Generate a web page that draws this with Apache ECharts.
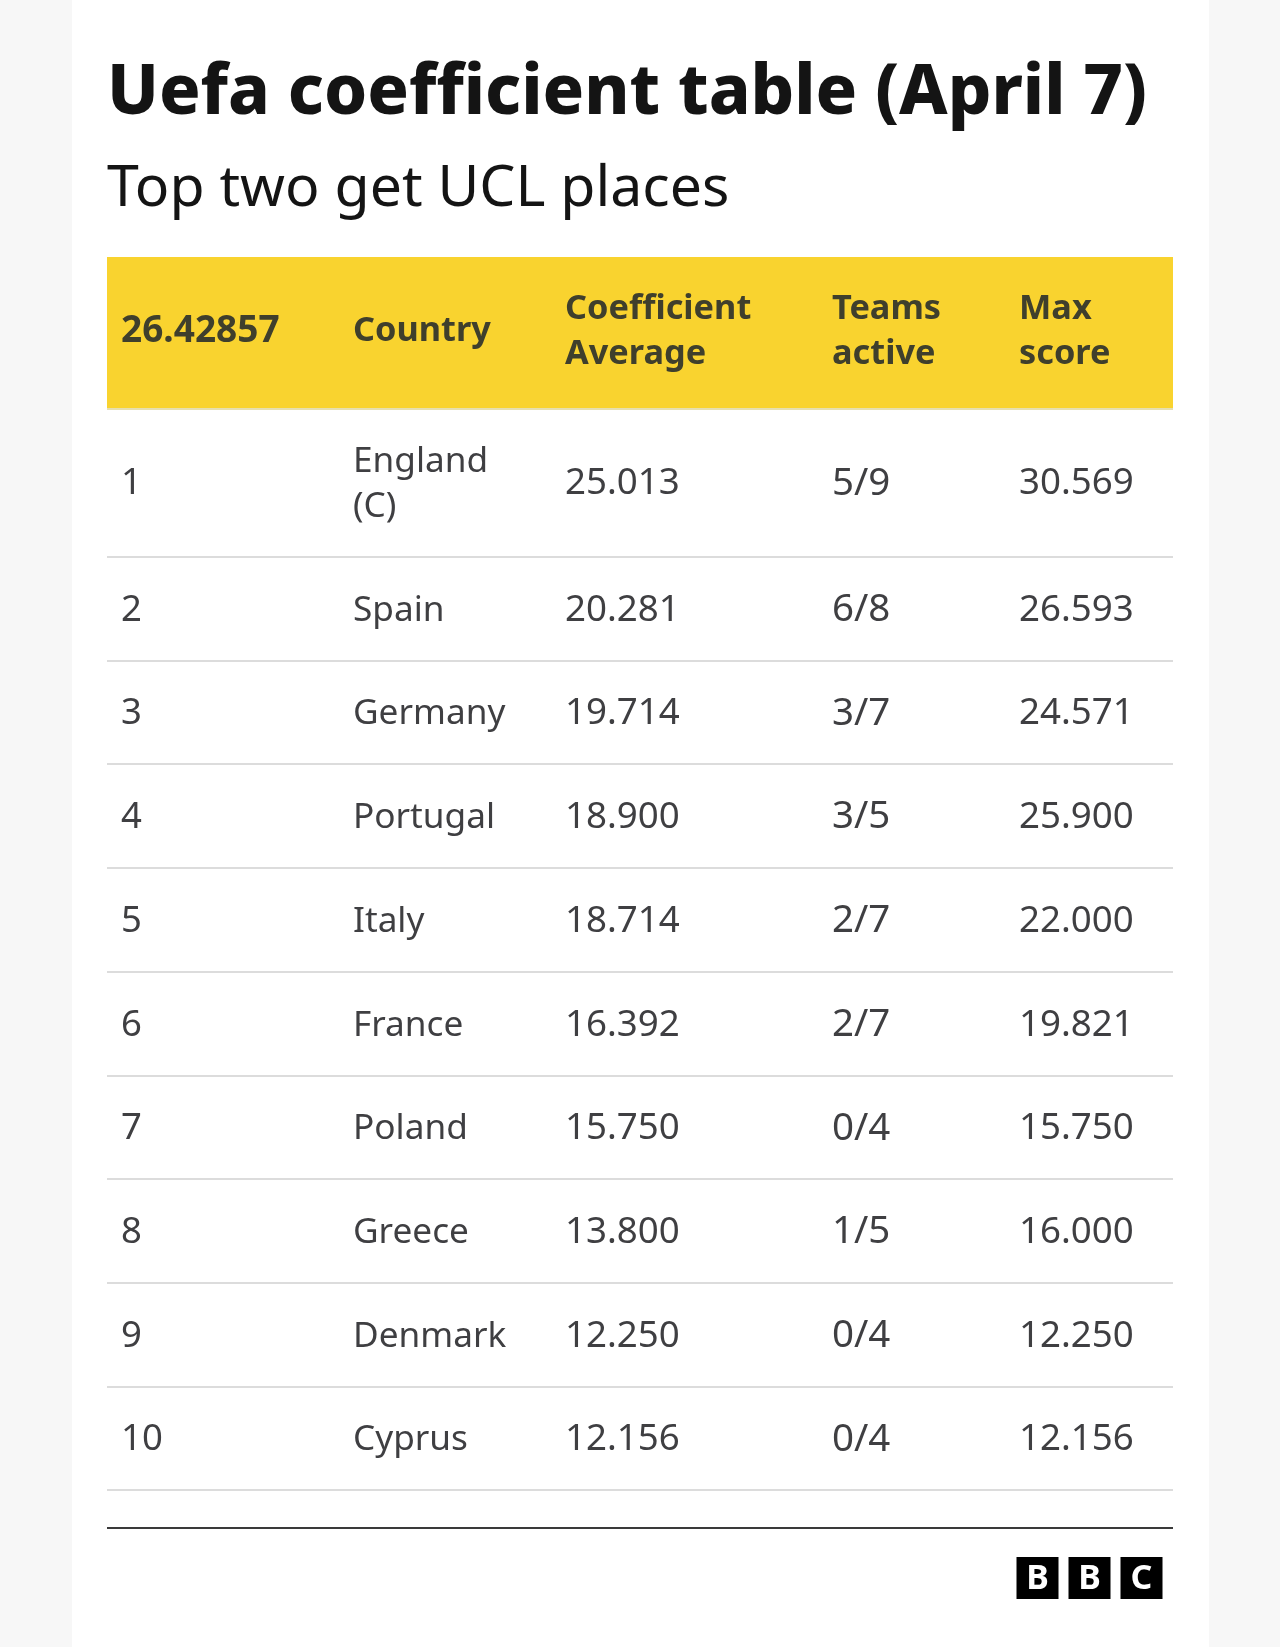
<!DOCTYPE html>
<html>
<head>
<meta charset="utf-8">
<title>Uefa coefficient table</title>
<style>
  html, body { margin: 0; padding: 0; background: #f7f7f7; }
  #chart { width: 1280px; height: 1647px; }
</style>
<script src="https://cdn.jsdelivr.net/npm/echarts@6/dist/echarts.min.js"></script>
</head>
<body>
<div id="chart"></div>
<script>
const titleText = "Uefa coefficient table (April 7)";
const subtitleText = "Top two get UCL places";
const headers = ["26.42857", "Country", "Coefficient\nAverage", "Teams\nactive", "Max\nscore"];
const ranks = ["1", "2", "3", "4", "5", "6", "7", "8", "9", "10"];
const countries = ["England\n(C)", "Spain", "Germany", "Portugal", "Italy", "France", "Poland", "Greece", "Denmark", "Cyprus"];
const averages = ["25.013", "20.281", "19.714", "18.900", "18.714", "16.392", "15.750", "13.800", "12.250", "12.156"];
const active = ["5/9", "6/8", "3/7", "3/5", "2/7", "2/7", "0/4", "1/5", "0/4", "0/4"];
const maxScores = ["30.569", "26.593", "24.571", "25.900", "22.000", "19.821", "15.750", "16.000", "12.250", "12.156"];
const logoLetters = ["B", "B", "C"];

// layout, in page pixels
const font = '"Noto Sans"';
const left = 107, right = 1173;
const colX = [121, 353, 565, 832, 1019];
const rowBottoms = [408, 557, 661, 764, 868, 972, 1076, 1179, 1283, 1387, 1490];
const headerTop = 257;
const headerDrop = -1;
const bodyDrop = 1.5;
const lineGap = 45;
const headerSizes = [37, 34.3, 34.3, 34.3, 34.3];
const bodySizes = [36.5, 35.2, 36.7, 38.5, 36.7];

const columns = [ranks, countries, averages, active, maxScores];
const cells = [];
headers.forEach((h, c) => cells.push([0, c, h]));
columns.forEach((col, c) => col.forEach((v, r) => cells.push([r + 1, c, v])));

function renderCell(params, api) {
  const row = api.value(0), col = api.value(1);
  const text = cells[params.dataIndex][2];
  const top = row === 0 ? headerTop : rowBottoms[row - 1];
  const bottom = rowBottoms[row];
  const children = [];
  if (col === 0) {
    if (row === 0) {
      children.push({ type: "rect", shape: { x: left, y: top, width: right - left, height: bottom - top }, style: { fill: "#f9d32f" } });
      children.push({ type: "rect", shape: { x: left, y: bottom, width: right - left, height: 2 }, style: { fill: "#e6dfb0" } });
    } else {
      children.push({ type: "rect", shape: { x: left, y: bottom - 1, width: right - left, height: 2 }, style: { fill: "#dcdcdc" } });
    }
  }
  const lines = text.split("\n");
  const mid = (top + bottom) / 2 + (row === 0 ? headerDrop : bodyDrop);
  lines.forEach((line, i) => {
    children.push({
      type: "text",
      x: colX[col],
      y: mid + (i - (lines.length - 1) / 2) * lineGap,
      style: {
        text: line,
        fontFamily: font,
        fontSize: row === 0 ? headerSizes[col] : bodySizes[col],
        fontWeight: row === 0 ? 700 : 400,
        fill: row === 0 ? "#3f3f2c" : "#3f3f42",
        verticalAlign: "middle",
        align: "left"
      }
    });
  });
  return { type: "group", children };
}

const chart = echarts.init(document.getElementById("chart"));
chart.setOption({
  animation: false,
  backgroundColor: "#f7f7f7",
  title: [
    { text: titleText, left: 102, top: 55, textStyle: { fontFamily: font, fontSize: 68.7, fontWeight: 800, color: "#141414" } },
    { text: subtitleText, left: 102, top: 156, textStyle: { fontFamily: font, fontSize: 57.2, fontWeight: 400, color: "#141414" } }
  ],
  graphic: [
    { type: "rect", z: -1, shape: { x: 72, y: 0, width: 1137, height: 1647 }, style: { fill: "#ffffff" } },
    { type: "rect", shape: { x: left, y: 1527, width: right - left, height: 2 }, style: { fill: "#3a3a3a" } }
  ].concat(logoLetters.flatMap((l, i) => [
    { type: "rect", shape: { x: 1016.5 + i * 52, y: 1557, width: 42, height: 42 }, style: { fill: "#000000" } },
    { type: "text", x: 1037.5 + i * 52, y: 1579, style: { text: l, fontFamily: font, fontSize: 34, fontWeight: 700, fill: "#ffffff", align: "center", verticalAlign: "middle" } }
  ])),
  series: [{
    type: "custom",
    coordinateSystem: "none",
    silent: true,
    renderItem: renderCell,
    encode: { x: 0, y: 1 },
    data: cells.map(c => [c[0], c[1]])
  }]
});
</script>
</body>
</html>
